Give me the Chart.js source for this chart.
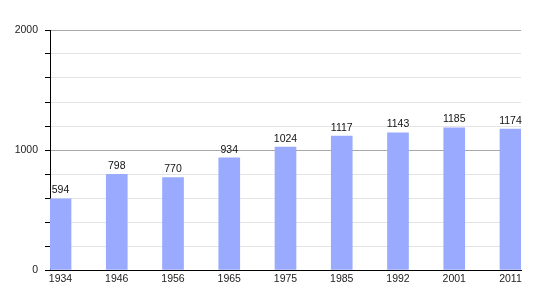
<!DOCTYPE html>
<html>
<head>
<meta charset="utf-8">
<script src="https://cdn.jsdelivr.net/npm/chart.js@4/dist/chart.umd.min.js"></script>
<style>
html,body{margin:0;padding:0;background:#fff;}
#wrap{width:550px;height:300px;position:relative;}
</style>
</head>
<body>
<div id="wrap"><canvas id="c" width="550" height="300"></canvas></div>
<script>
const categories = ['1934','1946','1956','1965','1975','1985','1992','2001','2011'];
const population = [594, 798, 770, 934, 1024, 1117, 1143, 1185, 1174];
const yLabelValues = [0, 1000, 2000];

const valueLabels = {
  id: 'valueLabels',
  afterDatasetsDraw(chart) {
    const ctx = chart.ctx;
    const meta = chart.getDatasetMeta(0);
    ctx.save();
    ctx.font = '10.5px "Liberation Sans", Arial, sans-serif';
    ctx.fillStyle = '#111';
    ctx.textAlign = 'center';
    ctx.textBaseline = 'bottom';
    meta.data.forEach((el, i) => {
      ctx.fillText(String(population[i]), el.x, el.y - 3);
    });
    ctx.restore();
  }
};

new Chart(document.getElementById('c'), {
  type: 'bar',
  data: {
    datasets: [{
      data: population.map((v, i) => ({x: i, y: v})),
      backgroundColor: '#99aaff',
      borderWidth: 0,
      barThickness: 21
    }]
  },
  options: {
    responsive: false,
    animation: false,
    layout: {padding: {left: 0, right: 29, top: 30, bottom: 0}},
    plugins: {legend: {display: false}, tooltip: {enabled: false}},
    scales: {
      x: {
        type: 'linear',
        offset: false,
        min: -10.5 / 56.125,
        max: categories.length - 1 + 10.5 / 56.125,
        afterBuildTicks(scale) {
          scale.ticks = categories.map((_, i) => ({value: i}));
        },
        afterFit(scale) { scale.height = 30; },
        grid: {display: false, drawTicks: false},
        border: {display: true, color: '#000', width: 1},
        ticks: {
          autoSkip: false,
          maxRotation: 0,
          padding: 3,
          color: '#222',
          font: {family: '"Liberation Sans", Arial, sans-serif', size: 10.5},
          callback: (v) => categories[v] !== undefined ? categories[v] : ''
        }
      },
      y: {
        min: 0,
        max: 2000,
        afterFit(scale) { scale.width = 50; },
        ticks: {
          stepSize: 200,
          padding: 7,
          color: '#222',
          font: {family: '"Liberation Sans", Arial, sans-serif', size: 10.5},
          callback: (v) => yLabelValues.includes(v) ? String(v) : ''
        },
        grid: {
          color: (c) => (c.tick && c.tick.value % 1000 === 0) ? '#a8a8a8' : '#e4e4e4',
          tickColor: '#000',
          tickLength: 5
        },
        border: {display: true, color: '#000', width: 1}
      }
    }
  },
  plugins: [valueLabels]
});
</script>
</body>
</html>
